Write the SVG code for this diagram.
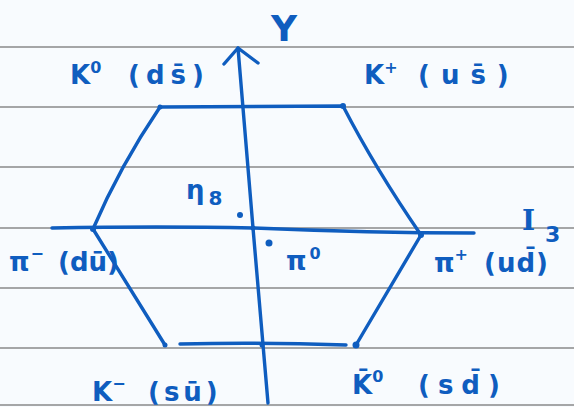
<svg xmlns="http://www.w3.org/2000/svg" width="574" height="407" viewBox="0 0 574 407">
<style>
.paper{stroke:#8a8a8a;stroke-width:1.4;fill:none}
.ink{stroke:#0f5dbf;stroke-width:3.4;fill:none;stroke-linecap:round;stroke-linejoin:round}
.dot{fill:#0f5dbf}
text{font-family:"DejaVu Sans","Liberation Sans",sans-serif;fill:#0f5dbf;font-weight:bold}
.lab{font-size:26px}
.sup{font-size:16px}
</style>
<rect width="574" height="407" fill="#f8fbfe"/>
<g id="paper-lines">
<line class="paper" x1="0" y1="47" x2="574" y2="47"/>
<line class="paper" x1="0" y1="107" x2="574" y2="107"/>
<line class="paper" x1="0" y1="167" x2="574" y2="167"/>
<line class="paper" x1="0" y1="228" x2="574" y2="228"/>
<line class="paper" x1="0" y1="288" x2="574" y2="288"/>
<line class="paper" x1="0" y1="348" x2="574" y2="348"/>
<line class="paper" x1="0" y1="405" x2="574" y2="405"/>
</g>
<g id="connectors">
<path id="hexagon" class="ink" d="M160,107 L343,106 Q375,168 421,235 L356,345 M346,345 Q260,342 180,344 M165,345 L93,229 Q120,166 160,107"/>
<path id="y-axis" class="ink" d="M238,48 L253,228 L268,403"/>
<path id="y-arrowhead" class="ink" d="M224,64 L238,48 L258,63"/>
<path id="i3-axis" class="ink" d="M52,228 Q160,226 253,228 Q370,233 474,233"/>
</g>
<g id="node-Y"><text x="271" y="41" style="font-size:36px">Y</text></g>
<g id="node-I3"><text x="522" y="230" style="font-size:28px;font-family:'DejaVu Serif',serif">I<tspan dx="10" dy="12" style="font-size:22px;font-family:'DejaVu Sans',sans-serif">3</tspan></text></g>
<g id="node-K0">
<circle class="dot" cx="160" cy="107" r="2.5"/>
<text class="lab" x="70" y="84">K<tspan class="sup" dy="-11">0</tspan><tspan x="128" dy="11" letter-spacing="6">(ds&#x304;)</tspan></text>
</g>
<g id="node-Kplus">
<circle class="dot" cx="343" cy="106" r="3"/>
<text class="lab" x="364" y="84">K<tspan class="sup" dy="-11">+</tspan><tspan x="418" dy="11" letter-spacing="11">(us&#x304;)</tspan></text>
</g>
<g id="node-piminus">
<circle class="dot" cx="93" cy="229" r="3"/>
<text class="lab" x="9" y="271">π<tspan class="sup" dx="1" dy="-12">−</tspan><tspan x="58" dy="12">(du&#x304;)</tspan></text>
</g>
<g id="node-piplus">
<circle class="dot" cx="421" cy="235" r="3"/>
<text class="lab" x="434" y="272">π<tspan class="sup" dy="-12">+</tspan><tspan x="484" dy="12" letter-spacing="1">(ud&#x304;)</tspan></text>
</g>
<g id="node-eta8">
<circle class="dot" cx="240" cy="215" r="3"/>
<text class="lab" x="186" y="199">η<tspan class="sup" dx="4" dy="6" style="font-size:20px">8</tspan></text>
</g>
<g id="node-pi0">
<circle class="dot" cx="269" cy="243" r="3.5"/>
<text class="lab" x="286" y="270">π<tspan class="sup" dx="3" dy="-11">0</tspan></text>
</g>
<g id="node-Kminus">
<circle class="dot" cx="165" cy="345" r="2.5"/>
<text class="lab" x="92" y="401">K<tspan class="sup" dy="-12">−</tspan><tspan x="148" dy="12" letter-spacing="4">(su&#x304;)</tspan></text>
</g>
<g id="node-K0bar">
<circle class="dot" cx="356" cy="345" r="3.5"/>
<text class="lab" x="352" y="394">K&#x304;<tspan class="sup" dy="-12">0</tspan><tspan x="418" dy="12" letter-spacing="8">(sd&#x304;)</tspan></text>
</g>
<circle class="dot" cx="253" cy="228" r="2.5"/>
<circle class="dot" cx="262" cy="345" r="2.5"/>
</svg>
